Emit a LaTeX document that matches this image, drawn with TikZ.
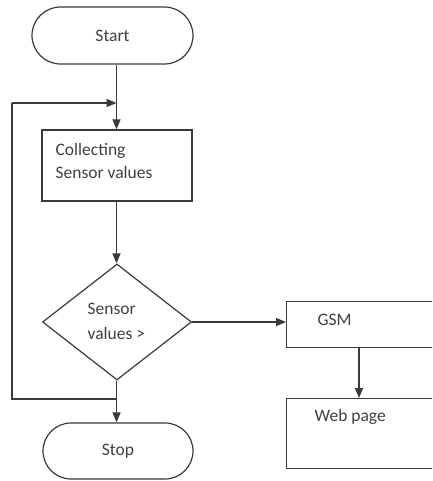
\documentclass[tikz,border=0pt]{standalone}
\usepackage{fontspec}
\setmainfont{Carlito}
\usetikzlibrary{shapes.geometric,shapes.misc,arrows.meta}
\definecolor{lc}{HTML}{3A3A3A}
\definecolor{tc}{HTML}{404040}
\begin{document}
\begin{tikzpicture}[x=1pt,y=-1pt,line width=1.2pt,
  term/.style={rounded rectangle, draw=lc, inner sep=0pt, text=tc, font=\fontsize{17.5}{23}\selectfont},
  box/.style={rectangle, draw=lc, inner sep=0pt},
  dec/.style={diamond, draw=lc, inner sep=0pt},
  txt/.style={text=tc, font=\fontsize{17.5}{23}\selectfont, inner sep=0pt, align=left},
  arr/.style={draw=lc, -{Triangle[length=10pt,width=8pt]}},
  ln/.style={draw=lc}]
\useasboundingbox (0,0) rectangle (432,481);
\clip (0,0) rectangle (432,481);
\fill[white] (0,0) rectangle (432,481);
% nodes
\node[term, minimum width=161pt, minimum height=57pt] (start) at (112.5,35.5) {Start};
\node[box, minimum width=150pt, minimum height=71pt] (collect) at (117,165.5) {};
\node[txt, anchor=west] (collecttext) at (55,160.5) {Collecting\\Sensor values};
\node[dec, minimum width=149pt, minimum height=116pt] (dec) at (117,322) {};
\node[txt, anchor=west] (dectext) at (87,321) {Sensor\\[2pt]values >};
\node[term, minimum width=150pt, minimum height=56pt] (stop) at (118,451) {Stop};
\node[box, minimum width=160pt, minimum height=46pt, anchor=north west] (gsm) at (286,301) {};
\node[txt, anchor=west] (gsmtext) at (317,320) {GSM};
\node[box, minimum width=160pt, minimum height=70pt, anchor=north west] (web) at (286,398) {};
\node[txt, anchor=west] (webtext) at (314,417) {Web page};
% helper coordinates
\coordinate (main) at (116.5,0);
\coordinate (gx) at (359,0);
\coordinate (join) at (116.5,103);
\coordinate (loopTL) at (12,103);
\coordinate (loopBL) at (12,399);
\coordinate (loopJ) at (116.5,399);
% connectors
\draw[arr] (start.south -| main) -- (collect.north -| main);
\draw[arr] (collect.south -| main) -- (dec.north -| main);
\draw[ln] (dec.south -| main) -- (loopJ) -- (loopBL) -- (loopTL);
\draw[arr] (loopTL) -- (join);
\draw[arr] (loopJ) -- (stop.north -| main);
\draw[arr] (dec.east) -- (gsm.west |- dec.east);
\draw[arr] (gsm.south -| gx) -- (web.north -| gx);
\end{tikzpicture}
\end{document}
